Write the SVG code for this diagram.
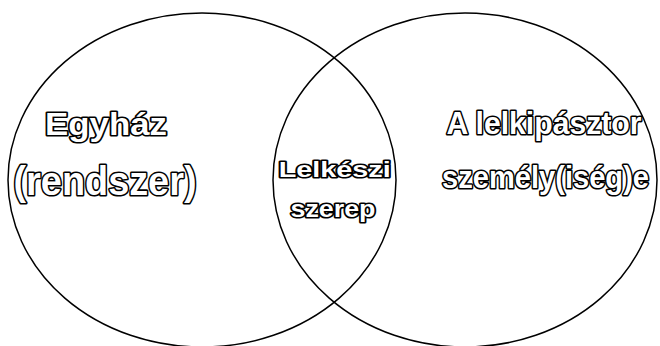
<svg xmlns="http://www.w3.org/2000/svg" width="660" height="346" viewBox="0 0 660 346">
<style>
.c{fill:none;stroke:#000;stroke-width:1.5}
.t{font-family:"Liberation Sans",Arial,sans-serif;font-weight:bold;fill:#fff;stroke:#000;stroke-width:3.2;stroke-linejoin:round;paint-order:stroke;text-anchor:middle}
</style>
<rect width="660" height="346" fill="#fff"/>
<g id="egyhaz">
<ellipse class="c" cx="202" cy="180" rx="194" ry="167"/>
<text class="t" x="106" y="134.5" font-size="31" textLength="122" lengthAdjust="spacingAndGlyphs">Egyház</text>
<text class="t" x="105" y="195" font-size="40" textLength="183" lengthAdjust="spacingAndGlyphs">(rendszer)</text>
</g>
<g id="lelkipasztor">
<ellipse class="c" cx="465" cy="180" rx="192" ry="167"/>
<text class="t" x="544" y="134" font-size="32" textLength="195" lengthAdjust="spacingAndGlyphs">A lelkipásztor</text>
<text class="t" x="545.5" y="188" font-size="31" textLength="207" lengthAdjust="spacingAndGlyphs">személy(iség)e</text>
</g>
<g id="lelkeszi-szerep">
<text class="t" x="334.7" y="176.7" font-size="22" textLength="112" lengthAdjust="spacingAndGlyphs">Lelkészi</text>
<text class="t" x="333" y="217.3" font-size="23" textLength="85" lengthAdjust="spacingAndGlyphs">szerep</text>
</g>
</svg>
